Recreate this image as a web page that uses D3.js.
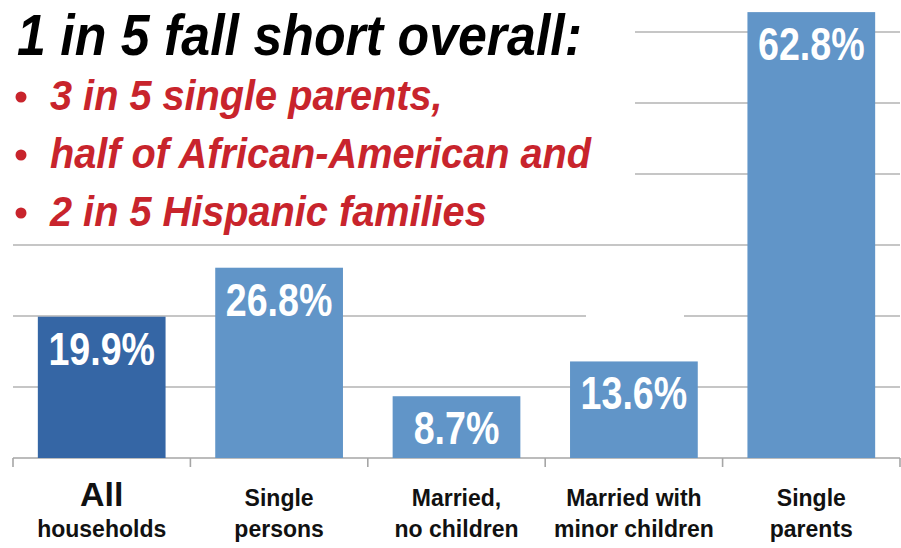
<!DOCTYPE html>
<html>
<head>
<meta charset="utf-8">
<script src="https://cdn.jsdelivr.net/npm/d3@7"></script>
<style>
  body { margin: 0; background: #fff; }
  text { font-family: "Liberation Sans", Arial, sans-serif; font-weight: bold; }
</style>
</head>
<body>
<svg id="chart"></svg>
<script>
let width = 901;
let height = 548;

// data
let categories = ['All households', 'Single persons', 'Married, no children', 'Married with minor children', 'Single parents'];
let labelLine1 = ['All', 'Single', 'Married,', 'Married with', 'Single'];
let labelLine2 = ['households', 'persons', 'no children', 'minor children', 'parents'];
let values = [19.9, 26.8, 8.7, 13.6, 62.8];
let gridTicks = [10, 20, 30, 40, 50, 60];

let title = '1 in 5 fall short overall:';
let bullets = ['3 in 5 single parents,', 'half of African-American and', '2 in 5 Hispanic families'];

let svg = d3.select('#chart')
  .attr('width', width)
  .attr('height', height);

let x = d3.scaleBand()
  .domain(categories)
  .range([13, 900])
  .paddingInner(0.28)
  .paddingOuter(0.14);

let y = d3.scaleLinear()
  .domain([0, 60])
  .range([458, 32]);

// squeeze text to look like the narrow font in the slide
function condense(sel, factor) {
  sel.each(function () {
    let w = this.getComputedTextLength();
    d3.select(this).attr('textLength', w * factor).attr('lengthAdjust', 'spacingAndGlyphs');
  });
}

// gridlines
svg.append('g')
  .selectAll('line')
  .data(gridTicks)
  .enter()
  .append('line')
  .attr('x1', 13)
  .attr('x2', 900)
  .attr('y1', d => y(d))
  .attr('y2', d => y(d))
  .attr('stroke', '#b3b3b3')
  .attr('stroke-width', 1.6);

// white text boxes hide parts of the gridlines
svg.append('rect').attr('x', 0).attr('y', 0).attr('width', 635).attr('height', 238).attr('fill', '#fff');
svg.append('rect').attr('x', 586).attr('y', 308).attr('width', 98).attr('height', 20).attr('fill', '#fff');

// axis
let axis = svg.append('g').attr('stroke', '#a6a6a6').attr('stroke-width', 1.6);
axis.append('line')
  .attr('x1', 13).attr('x2', 900)
  .attr('y1', y(0)).attr('y2', y(0));
axis.selectAll('.tick')
  .data(d3.range(categories.length + 1))
  .enter()
  .append('line')
  .attr('x1', d => 13 + d * x.step())
  .attr('x2', d => 13 + d * x.step())
  .attr('y1', y(0))
  .attr('y2', y(0) + 9);

// bars
svg.append('g')
  .selectAll('rect')
  .data(values)
  .enter()
  .append('rect')
  .attr('x', (d, i) => x(categories[i]))
  .attr('y', d => y(d))
  .attr('width', x.bandwidth())
  .attr('height', d => y(0) - y(d))
  .attr('fill', (d, i) => i === 0 ? '#3566a5' : '#6195c8');

// value labels
svg.append('g')
  .selectAll('text')
  .data(values)
  .enter()
  .append('text')
  .attr('x', (d, i) => x(categories[i]) + x.bandwidth() / 2)
  .attr('y', d => y(d) + 48)
  .attr('text-anchor', 'middle')
  .attr('fill', '#fff')
  .attr('font-size', 47)
  .text(d => d.toFixed(1) + '%')
  .call(condense, 0.8);

// category labels
let cats = svg.append('g')
  .selectAll('g')
  .data(categories)
  .enter()
  .append('g')
  .attr('transform', d => 'translate(' + (x(d) + x.bandwidth() / 2) + ',0)');

cats.append('text')
  .attr('y', 506)
  .attr('text-anchor', 'middle')
  .attr('fill', '#111')
  .attr('font-size', (d, i) => i === 0 ? 34 : 23)
  .text((d, i) => labelLine1[i]);

cats.append('text')
  .attr('y', 537)
  .attr('text-anchor', 'middle')
  .attr('fill', '#111')
  .attr('font-size', 23)
  .text((d, i) => labelLine2[i]);

// title
svg.append('text')
  .attr('x', 17)
  .attr('y', 55)
  .attr('font-size', 57)
  .attr('font-style', 'italic')
  .attr('fill', '#000')
  .text(title)
  .call(condense, 0.91);

let bl = svg.append('g')
  .selectAll('g')
  .data(bullets)
  .enter()
  .append('g')
  .attr('transform', (d, i) => 'translate(0,' + (110 + i * 58) + ')');

bl.append('circle')
  .attr('cx', 21)
  .attr('cy', -13)
  .attr('r', 5.5)
  .attr('fill', '#c8242c');

bl.append('text')
  .attr('x', 50)
  .attr('font-size', 42)
  .attr('font-style', 'italic')
  .attr('fill', '#c8242c')
  .text(d => d)
  .call(condense, 0.945);
</script>
</body>
</html>
